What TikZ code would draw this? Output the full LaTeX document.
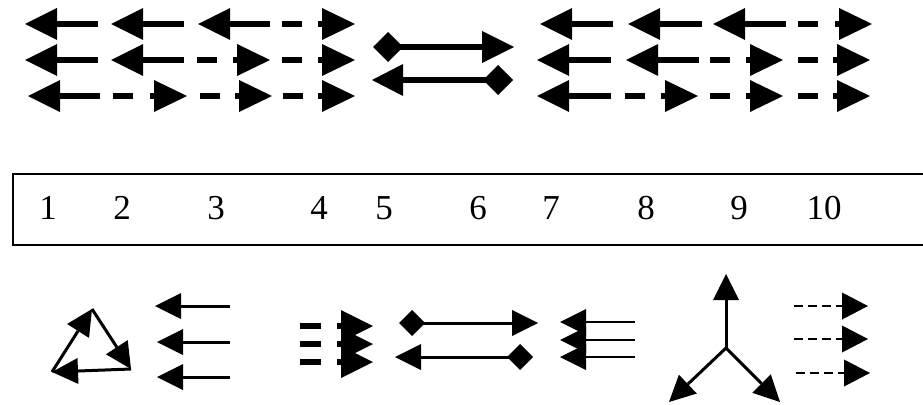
\documentclass[tikz,border=0pt]{standalone}
\usepackage{fontspec}
\setmainfont{Liberation Serif}
\usetikzlibrary{arrows.meta}
\tikzset{
  bigline/.style={line width=6.5pt},
  sarr/.style={line width=3pt, -{Triangle[length=26pt,width=26pt,line width=0pt]}},
  darr/.style={line width=2.5pt, dash pattern=on 9pt off 5pt, -{Triangle[length=26pt,width=27pt,line width=0pt]}},
  num/.style={anchor=base, inner sep=0pt, font=\fontsize{35}{35}\selectfont},
  frame/.style={line width=2.5pt}
}
% big left arrow: tip x, y, end x
\newcommand\TL[3]{%
  \fill (#1,#2) -- ({#1+32},{#2-16}) -- ({#1+32},{#2+16}) -- cycle;
  \draw[bigline] ({#1+31},#2) -- (#3,#2);}
% big dashed right arrow: start x, y, tip x
\newcommand\TR[3]{%
  \fill (#3,#2) -- ({#3-33},{#2-16}) -- ({#3-33},{#2+16}) -- cycle;
  \draw[bigline] (#1,#2) -- ({#1+20},#2);
  \draw[bigline] ({#3-37},#2) -- ({#3-32},#2);}
% diamond: centre x, y, half size
\newcommand\DM[3]{%
  \fill ({#1-#3},#2) -- (#1,{#2-#3}) -- ({#1+#3},#2) -- (#1,{#2+#3}) -- cycle;}
\begin{document}
\begin{tikzpicture}[x=1pt,y=-1pt]
\useasboundingbox (0,0) rectangle (923,404);
% ---- top left group
\TL{25}{24}{98} \TL{111}{24}{184} \TL{198}{24}{270} \TR{282}{24}{355}
\TL{25}{60}{98} \TL{111}{60}{184} \TR{197}{60}{270} \TR{282}{60}{355}
\TL{28}{96}{100} \TR{113}{96}{187} \TR{200}{96}{272} \TR{283}{96}{355}
% ---- top middle
\DM{388}{47}{15}
\draw[line width=5.5pt] (388,47) -- (483,47);
\fill (514,47) -- (482,31) -- (482,63) -- cycle;
\DM{498}{80}{15}
\draw[line width=5.5pt] (402,80) -- (498,80);
\fill (372,80) -- (403,64) -- (403,96) -- cycle;
% ---- top right group
\TL{540}{24}{613} \TL{628}{24}{702} \TL{713}{24}{786} \TR{798}{24}{872}
\TL{537}{60}{611} \TL{626}{60}{699} \TR{710}{60}{783} \TR{798}{60}{870}
\TL{537}{96}{611} \TR{625}{96}{698} \TR{710}{96}{783} \TR{798}{96}{870}
% ---- number box
\draw[frame] (930,174) -- (13,174) -- (13,245) -- (930,245);
\node[num] (n1) at (48,219.5) {1};
\node[num] (n2) at (122,219.5) {2};
\node[num] (n3) at (216,219.5) {3};
\node[num] (n4) at (319,219.5) {4};
\node[num] (n5) at (384,219.5) {5};
\node[num] (n6) at (478,219.5) {6};
\node[num] (n7) at (551,219.5) {7};
\node[num] (n8) at (646,219.5) {8};
\node[num] (n9) at (739,219.5) {9};
\node[num] (n10) at (824,219.5) {10};
% ---- bottom: cycle triangle
\coordinate (ta) at (92,309);
\coordinate (tb) at (52,372);
\coordinate (tc) at (131,369);
\draw[sarr] (ta) -- (tc);
\draw[sarr] (tc) -- (tb);
\draw[sarr] (tb) -- (ta);
% three left arrows
\draw[sarr] (230,306) -- (155,306);
\draw[sarr] (230,342) -- (157,342);
\draw[sarr] (230,377) -- (157,377);
% stacked dashed heads
\foreach \yy in {326,344,362}{
  \draw[line width=5.5pt] (300,\yy) -- (321,\yy);
  \draw[line width=5.5pt] (337,\yy) -- (342,\yy);
}
\foreach \yy in {326,344,362}{
  \fill (373,\yy) -- (341,{\yy-16}) -- (341,{\yy+16}) -- cycle;
}
% diamond arrows
\DM{412}{323}{13}
\draw[sarr] (412,323) -- (538,323);
\DM{520}{357}{13}
\draw[sarr] (520,357) -- (395,357);
% triple left
\draw[sarr, line width=2.5pt] (635,322) -- (560,322);
\draw[sarr, line width=2.5pt] (635,340) -- (560,340);
\draw[sarr, line width=2.5pt] (635,357) -- (560,357);
% Y shape
\coordinate (yc) at (726,348);
\draw[sarr] (yc) -- (726,274);
\draw[sarr] (yc) -- (669,402);
\draw[sarr] (yc) -- (780,402);
% dashed right arrows
\draw[darr] (794,306) -- (868,306);
\draw[darr] (794,339) -- (868,339);
\draw[darr] (796,373) -- (870,373);
\end{tikzpicture}
\end{document}
